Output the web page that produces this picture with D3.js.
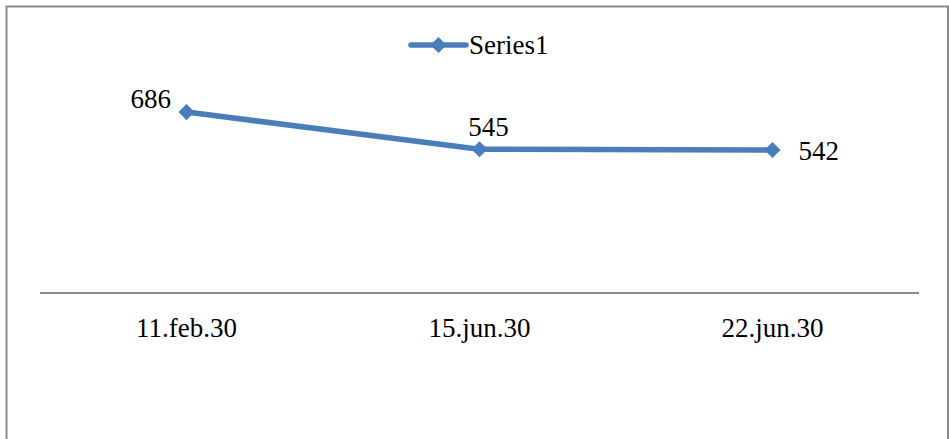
<!DOCTYPE html>
<html>
<head>
<meta charset="utf-8">
<script src="https://cdn.jsdelivr.net/npm/d3@7"></script>
<style>
  html, body { margin: 0; padding: 0; background: #fff; }
  svg { display: block; }
</style>
</head>
<body>
<svg id="chart" width="949" height="439"></svg>
<script>
const categories = ["11.feb.30", "15.jun.30", "22.jun.30"];
const seriesName = "Series1";
const values = [686, 545, 542];

const W = 949, H = 439;
const svg = d3.select("#chart");
const color = "#4a7ebb";
const font = "'Liberation Serif', 'Times New Roman', serif";

// chart border
svg.append("rect")
  .attr("x", 6.5).attr("y", 6.5)
  .attr("width", 948 - 6.5).attr("height", H + 10)
  .attr("fill", "#fff")
  .attr("stroke", "#8a8a8a").attr("stroke-width", 2);

const x = d3.scaleBand().domain(categories).range([40, 919]);
const y = d3.scaleLinear().domain([0, 800]).range([293, 82]);

// category axis
const xAxis = d3.axisBottom(x).tickSize(0).tickPadding(0);
const gx = svg.append("g").attr("transform", `translate(0,${y(0)})`).call(xAxis);
gx.select(".domain").attr("stroke", "#8a8a8a").attr("stroke-width", 2)
  .attr("d", `M40,0H919`);
gx.selectAll(".tick text")
  .attr("y", 44)
  .attr("dy", 0)
  .attr("font-family", font)
  .attr("font-size", 27)
  .attr("fill", "#000");

const data = categories.map((c, i) => ({c, v: values[i]}));
const cx = d => x(d.c) + x.bandwidth() / 2;

// line
svg.append("path")
  .datum(data)
  .attr("fill", "none")
  .attr("stroke", color)
  .attr("stroke-width", 5.5)
  .attr("stroke-linejoin", "round")
  .attr("d", d3.line().x(cx).y(d => y(d.v)));

// markers
const diamond = d3.symbol().type(d3.symbolDiamond2).size(150);
svg.selectAll(".mk").data(data).enter().append("path")
  .attr("class", "mk")
  .attr("transform", d => `translate(${cx(d)},${y(d.v)}) rotate(45)`)
  .attr("d", d3.symbol().type(d3.symbolSquare).size(130)())
  .attr("fill", color);

// data labels (placement as Excel chose them: left-above, above, right)
const placement = [
  {dx: -56, dy: -4, anchor: "start"},
  {dx: 9, dy: -13, anchor: "middle"},
  {dx: 26, dy: 10, anchor: "start"}
];
svg.selectAll(".lbl").data(data).enter().append("text")
  .attr("class", "lbl")
  .attr("x", (d, i) => cx(d) + placement[i].dx)
  .attr("y", (d, i) => y(d.v) + placement[i].dy)
  .attr("text-anchor", (d, i) => placement[i].anchor)
  .attr("font-family", font)
  .attr("font-size", 27)
  .attr("fill", "#000")
  .text(d => d.v);

// legend
const lg = svg.append("g").attr("transform", "translate(411,45)");
lg.append("line").attr("x1", 0).attr("x2", 55).attr("y1", 0).attr("y2", 0)
  .attr("stroke", color).attr("stroke-width", 5.5).attr("stroke-linecap", "round");
lg.append("path")
  .attr("transform", "translate(27.5,0) rotate(45)")
  .attr("d", d3.symbol().type(d3.symbolSquare).size(130)())
  .attr("fill", color);
lg.append("text")
  .attr("x", 58).attr("y", 9)
  .attr("font-family", font)
  .attr("font-size", 27)
  .attr("fill", "#000")
  .text(seriesName);
</script>
</body>
</html>
